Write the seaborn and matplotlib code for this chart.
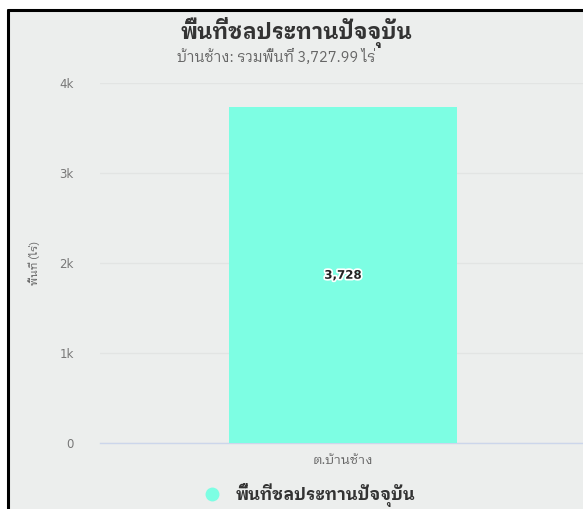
import matplotlib
matplotlib.use("Agg")
import matplotlib.pyplot as plt
from matplotlib.lines import Line2D
from matplotlib.patches import Rectangle
import matplotlib.patheffects as pe
import seaborn as sns

# data
categories = ["ต.บ้านช้าง"]
values = [3727.99]
series_name = "พื้นที่ชลประทานปัจจุบัน"
title = "พื้นที่ชลประทานปัจจุบัน"
subtitle = "บ้านช้าง: รวมพื้นที่ 3,727.99 ไร่"
y_label = "พื้นที่ (ไร่)"
y_ticks = [0, 1000, 2000, 3000, 4000]
y_tick_labels = ["0", "1k", "2k", "3k", "4k"]

# colours
bar_col = "#7dfee3"
bg = "#eceeed"
grid_col = "#e2e4e3"
axis_col = "#ccd6eb"
label_col = "#666666"

sns.set_style("white")
plt.rcParams['font.family'] = ['IBM Plex Sans Thai Looped', 'DejaVu Sans']

W, H = 583, 509
fig = plt.figure(figsize=(W / 100, H / 100), dpi=100)
fig.patch.set_facecolor("white")

# screenshot frame
fig.patches.append(Rectangle((8 / W, 0), 1 - 8 / W, 1 - 10 / H, transform=fig.transFigure,
                             facecolor=bg, edgecolor="none", zorder=-10))
fig.add_artist(Line2D([8 / W, 1], [1 - 10 / H, 1 - 10 / H], transform=fig.transFigure,
                      color="black", lw=2.2))
fig.add_artist(Line2D([8 / W, 8 / W], [0, 1 - 10 / H], transform=fig.transFigure,
                      color="black", lw=2.2))

ax = fig.add_axes([100 / W, 1 - 443 / H, 483 / W, 360 / H])
ax.set_facecolor(bg)

sns.barplot(x=categories, y=values, color=bar_col, saturation=1, width=0.472,
            edgecolor="none", ax=ax, zorder=3)

ax.set_ylim(0, 4000)
ax.set_xlim(-0.503, 0.497)
ax.set_yticks(y_ticks)
ax.set_yticklabels(y_tick_labels, color="#777777", fontsize=8.5, family="DejaVu Sans")
ax.tick_params(axis="y", length=0, pad=19)
ax.tick_params(axis="x", length=0, pad=8, labelsize=9.5, labelcolor=label_col)
ax.grid(axis="y", color=grid_col, lw=1, zorder=0)
for s in ["top", "right", "left"]:
    ax.spines[s].set_visible(False)
ax.spines["bottom"].set_color(axis_col)
ax.spines["bottom"].set_linewidth(1)

ax.set_ylabel(y_label, color=label_col, fontsize=8, labelpad=14)
ax.set_xlabel("")

# data label in the middle of the bar
for i, v in enumerate(values):
    ax.text(i, v / 2, f"{v:,.0f}", ha="center", va="center", fontsize=8.5,
            fontweight="bold", color="#222222", family="DejaVu Sans",
            path_effects=[pe.withStroke(linewidth=2.5, foreground="white")], zorder=5)

fig.text(296 / W, 1 - 32 / H, title, ha="center", va="center", fontsize=15.5,
         fontweight="bold", color="#333333")
fig.text(276 / W, 1 - 57 / H, subtitle, ha="center", va="center", fontsize=10.5,
         color=label_col)

handle = Line2D([], [], marker="o", linestyle="none", markersize=10,
                markerfacecolor=bar_col, markeredgecolor="none")
leg = fig.legend([handle], [series_name], loc="center",
                 bbox_to_anchor=(305 / W, 1 - 495 / H), frameon=False,
                 handletextpad=0.4, prop={"size": 12, "weight": "bold"})
for t in leg.get_texts():
    t.set_color("#333333")

fig.savefig("out.png", dpi=100)
